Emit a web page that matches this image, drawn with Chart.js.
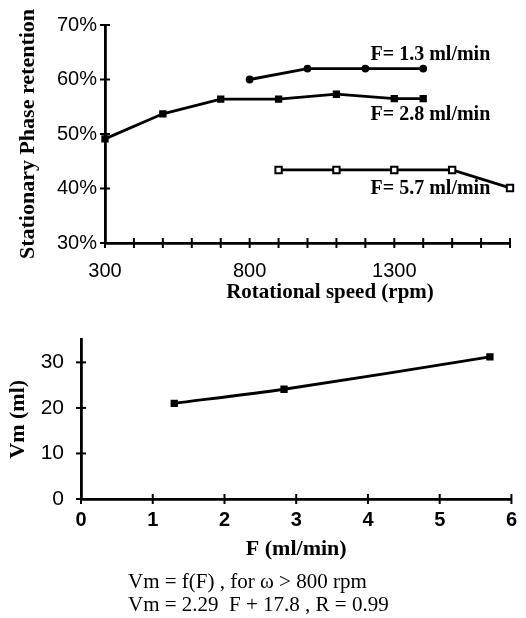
<!DOCTYPE html>
<html>
<head>
<meta charset="utf-8">
<script src="https://cdn.jsdelivr.net/npm/chart.js@4.4.0/dist/chart.umd.min.js"></script>
<style>
body{margin:0;background:#fff;width:526px;height:618px;position:relative;overflow:hidden}
#topChart{position:absolute;left:0;top:0}
#bottomChart{position:absolute;left:0;top:310px}
.cap{position:absolute;left:128px;top:570px;font-family:"Liberation Serif",serif;font-size:21px;line-height:23px;color:#000;white-space:pre}
</style>
</head>
<body>
<canvas id="topChart" width="526" height="310"></canvas>
<canvas id="bottomChart" width="526" height="308"></canvas>
<div class="cap">Vm = f(F) , for ω &gt; 800 rpm
Vm = 2.29  F + 17.8 , R = 0.99</div>
<script>

// top chart : retention vs rotational speed
const rpm13 = [800, 1000, 1200, 1400];
const ret13 = [60, 62, 62, 62];

const rpm28 = [300, 500, 700, 900, 1100, 1300, 1400];
const ret28 = [49.1, 53.7, 56.4, 56.4, 57.3, 56.5, 56.5];

const rpm57 = [900, 1100, 1300, 1500, 1700];
const ret57 = [43.4, 43.4, 43.4, 43.4, 40.1];

const rpmLabels = [300, 800, 1300];

// labels next to the curves (rpm of left edge, % of middle)
const flowNames = ['F= 1.3 ml/min', 'F= 2.8 ml/min', 'F= 5.7 ml/min'];
const flowNameRpm = [1218, 1218, 1218];
const flowNamePct = [64.5, 53.5, 39.9];

// bottom chart : Vm vs flow
const flow = [1.3, 2.83, 5.7];
const vm = [21, 24.1, 31.2];

const serif = '"Liberation Serif", serif';
const sans = '"Liberation Sans", sans-serif';

const pts = (xs, ys) => xs.map((x, i) => ({x: x, y: ys[i]}));

// ticks that cross the axis line, like the printed figure
const crossTicks = {
  id: 'crossTicks',
  afterDraw(chart) {
    const ctx = chart.ctx;
    const a = chart.chartArea;
    const xs = chart.scales.x;
    const ys = chart.scales.y;
    ctx.save();
    ctx.strokeStyle = '#000';
    ctx.lineWidth = 2;
    xs.ticks.forEach(t => {
      const p = xs.getPixelForValue(t.value);
      ctx.beginPath(); ctx.moveTo(p, a.bottom - 5); ctx.lineTo(p, a.bottom + 5); ctx.stroke();
    });
    ys.ticks.forEach(t => {
      const p = ys.getPixelForValue(t.value);
      ctx.beginPath(); ctx.moveTo(a.left - 5, p); ctx.lineTo(a.left + 5, p); ctx.stroke();
    });
    ctx.restore();
  }
};

// free text drawn on the canvas
const notes = {
  id: 'notes',
  afterDraw(chart, args, opts) {
    const ctx = chart.ctx;
    ctx.save();
    ctx.fillStyle = '#000';
    ctx.textBaseline = 'middle';
    (opts.items || []).forEach(it => {
      ctx.font = it.font;
      ctx.textAlign = it.align || 'left';
      const x = it.useData ? chart.scales.x.getPixelForValue(it.x) : it.x;
      const y = it.useData ? chart.scales.y.getPixelForValue(it.y) : it.y;
      ctx.fillText(it.text, x, y);
    });
    ctx.restore();
  }
};

const noteItems = flowNames.map((t, i) => ({
  text: t, x: flowNameRpm[i], y: flowNamePct[i], useData: true, font: 'bold 20px ' + serif
}));
noteItems.push({text: 'Rotational speed (rpm)', x: 330, y: 293, align: 'center', font: 'bold 21px ' + serif});

const lineStyle = {
  borderColor: '#000',
  backgroundColor: '#000',
  borderWidth: 2.8,
  pointBorderColor: '#000',
  clip: false,
  tension: 0
};

new Chart(document.getElementById('topChart'), {
  type: 'line',
  data: {
    datasets: [
      Object.assign({}, lineStyle, {label: flowNames[0], data: pts(rpm13, ret13), pointStyle: 'circle', pointRadius: 2.5}),
      Object.assign({}, lineStyle, {label: flowNames[1], data: pts(rpm28, ret28), pointStyle: 'rect', pointRadius: 3.2}),
      Object.assign({}, lineStyle, {label: flowNames[2], data: pts(rpm57, ret57), pointStyle: 'rect', pointRadius: 4.5,
        pointBackgroundColor: '#fff', pointBorderWidth: 2})
    ]
  },
  plugins: [crossTicks, notes],
  options: {
    responsive: false,
    animation: false,
    layout: {padding: {left: 0, right: 14, top: 25, bottom: 0}},
    plugins: {
      legend: {display: false},
      tooltip: {enabled: false},
      notes: {items: noteItems}
    },
    scales: {
      x: {
        type: 'linear',
        min: 300, max: 1700,
        afterFit: s => { s.height = 67; },
        border: {display: true, color: '#000', width: 2.8},
        grid: {display: true, drawOnChartArea: false, drawTicks: false},
        ticks: {
          stepSize: 100, autoSkip: false, maxRotation: 0, padding: 16,
          color: '#000', font: {family: sans, size: 20},
          callback: v => rpmLabels.includes(v) ? String(v) : ''
        }
      },
      y: {
        min: 30, max: 70,
        afterFit: s => { s.width = 105; },
        border: {display: true, color: '#000', width: 2.8},
        grid: {display: true, drawOnChartArea: false, drawTicks: false},
        ticks: {
          stepSize: 10, padding: 8, color: '#000', font: {family: sans, size: 20},
          callback: v => v + '%'
        },
        title: {
          display: true, text: 'Stationary Phase retention', color: '#000',
          font: {family: serif, size: 22, weight: 'bold'}, padding: {top: 15, bottom: 0}
        }
      }
    }
  }
});

new Chart(document.getElementById('bottomChart'), {
  type: 'line',
  data: {
    datasets: [
      Object.assign({}, lineStyle, {label: 'Vm', data: pts(flow, vm), pointStyle: 'rect', pointRadius: 3.2, tension: 0.25})
    ]
  },
  plugins: [crossTicks],
  options: {
    responsive: false,
    animation: false,
    layout: {padding: {left: 0, right: 11, top: 13, bottom: 0}},
    plugins: {
      legend: {display: false},
      tooltip: {enabled: false}
    },
    scales: {
      x: {
        type: 'linear',
        min: 0, max: 6,
        afterFit: s => { s.height = 119; },
        border: {display: true, color: '#000', width: 2.8},
        grid: {display: true, drawOnChartArea: false, drawTicks: false},
        ticks: {
          stepSize: 1, autoSkip: false, maxRotation: 0, padding: 9,
          color: '#000', font: {family: sans, size: 20, weight: 'bold'}
        },
        title: {
          display: true, text: 'F (ml/min)', color: '#000',
          font: {family: serif, size: 22, weight: 'bold'}, padding: {top: 0, bottom: 55}
        }
      },
      y: {
        min: 0, max: 35,
        afterFit: s => { s.width = 81; },
        border: {display: true, color: '#000', width: 2.8},
        grid: {display: true, drawOnChartArea: false, drawTicks: false},
        ticks: {
          stepSize: 5, padding: 17, color: '#000', font: {family: sans, size: 21},
          callback: v => v % 10 === 0 ? String(v) : ''
        },
        title: {
          display: true, text: 'Vm (ml)', color: '#000',
          font: {family: serif, size: 22, weight: 'bold'}, padding: {top: 5, bottom: 0}
        }
      }
    }
  }
});
</script>
</body>
</html>
